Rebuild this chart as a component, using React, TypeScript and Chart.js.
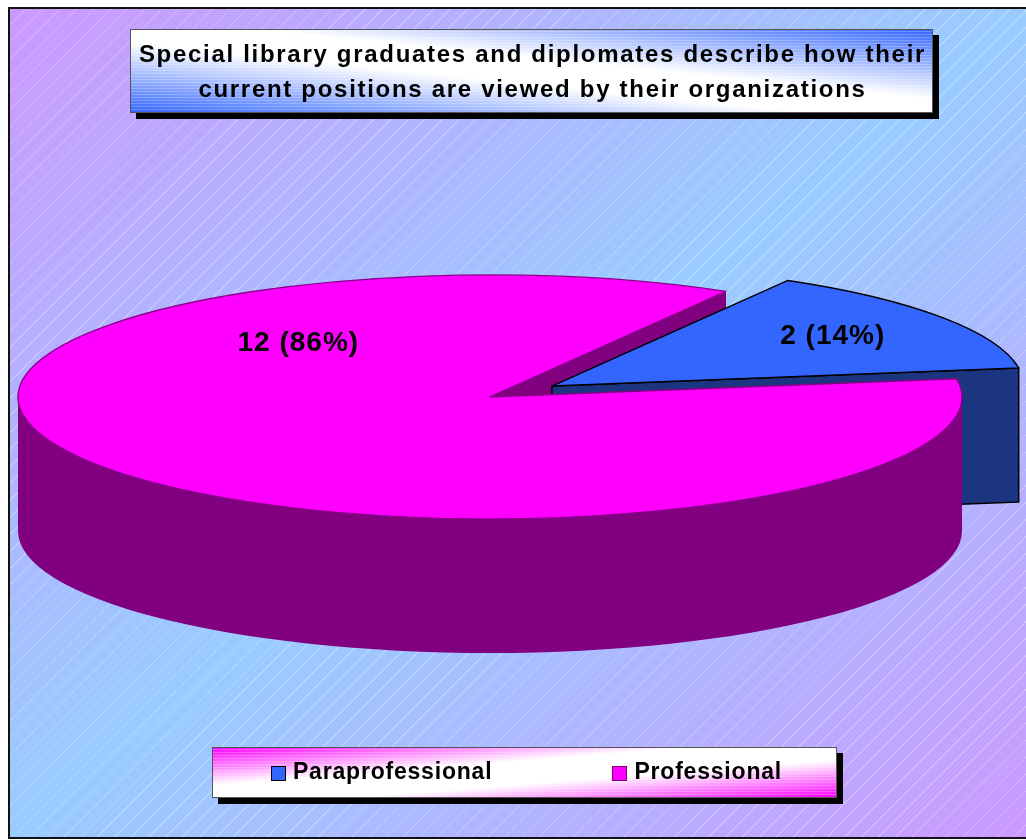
import React, { useEffect, useRef } from 'react';
import { Chart, registerables } from 'chart.js';

Chart.register(...registerables);

// ---- data ----
const categories = ['Paraprofessional', 'Professional'];
const counts = [2, 12];
const titleLines = [
  'Special library graduates and diplomates describe how their',
  'current positions are viewed by their organizations',
];
const topColors = ['#3366FF', '#FF00FF'];
const sideColors = ['#1C3580', '#800080'];
const edgeColors = ['#000000', '#8B008B'];

const FONT = '"Liberation Sans", Arial, Helvetica, sans-serif';

const pie3d = {
  id: 'pie3d',
  beforeDatasetDraw(chart: any, args: any, opts: any) {
    const ctx: CanvasRenderingContext2D = chart.ctx;
    const meta = chart.getDatasetMeta(args.index);
    const K = opts.tilt;
    const D = opts.depth;
    const values = chart.data.datasets[args.index].data as number[];
    const total = values.reduce((a: number, b: number) => a + b, 0);

    const geo = meta.data.map((el: any, i: number) => {
      const p = el.getProps(['x', 'y', 'startAngle', 'endAngle', 'outerRadius'], true);
      const mid = (p.startAngle + p.endAngle) / 2;
      const ex = (opts.explode && opts.explode[i]) || 0;
      return {
        el,
        i,
        s: p.startAngle,
        e: p.endAngle,
        R: p.outerRadius,
        mid,
        x: p.x,
        y: p.y,
        ox: opts.cx + Math.cos(mid) * ex,
        oy: opts.cy + Math.sin(mid) * ex * K,
      };
    });

    // cut faces
    const faces: any[] = [];
    geo.forEach((g: any) => {
      if (Math.cos(g.s) < 0) faces.push({ g, a: g.s });
      if (Math.cos(g.e) > 0) faces.push({ g, a: g.e });
    });
    faces.sort(
      (A, B) =>
        A.g.oy + (A.g.R * K * Math.sin(A.a)) / 2 - (B.g.oy + (B.g.R * K * Math.sin(B.a)) / 2)
    );
    faces.forEach(({ g, a }) => {
      const px = g.ox + g.R * Math.cos(a);
      const py = g.oy + g.R * K * Math.sin(a);
      ctx.save();
      ctx.beginPath();
      ctx.moveTo(g.ox, g.oy);
      ctx.lineTo(px, py);
      ctx.lineTo(px, py + D);
      ctx.lineTo(g.ox, g.oy + D);
      ctx.closePath();
      ctx.fillStyle = sideColors[g.i];
      ctx.fill();
      if (g.i === 0) {
        ctx.strokeStyle = edgeColors[g.i];
        ctx.lineWidth = 1.5;
        ctx.lineJoin = 'round';
        ctx.stroke();
      }
      ctx.restore();
    });

    // outer walls (front half only)
    const fronts = [
      [-2 * Math.PI, -Math.PI],
      [0, Math.PI],
      [2 * Math.PI, 3 * Math.PI],
    ];
    geo.forEach((g: any) => {
      fronts.forEach(([f1, f2]) => {
        const a1 = Math.max(g.s, f1);
        const a2 = Math.min(g.e, f2);
        if (a2 > a1) {
          ctx.save();
          ctx.beginPath();
          ctx.ellipse(g.ox, g.oy, g.R, g.R * K, 0, a1, a2, false);
          ctx.ellipse(g.ox, g.oy + D, g.R, g.R * K, 0, a2, a1, true);
          ctx.closePath();
          ctx.fillStyle = sideColors[g.i];
          ctx.fill();
          ctx.restore();
        }
      });
    });

    // top faces, drawn by the library's arc elements
    geo.forEach((g: any) => {
      ctx.save();
      ctx.translate(g.ox, g.oy);
      ctx.scale(1, K);
      ctx.translate(-g.x, -g.y);
      g.el.draw(ctx);
      ctx.restore();
    });

    // outlines
    geo.forEach((g: any) => {
      ctx.save();
      ctx.beginPath();
      ctx.moveTo(g.ox, g.oy);
      ctx.ellipse(g.ox, g.oy, g.R, g.R * K, 0, g.s, g.e, false);
      ctx.closePath();
      ctx.strokeStyle = edgeColors[g.i];
      ctx.lineWidth = g.i === 0 ? 1.5 : 1.4;
      ctx.lineJoin = 'round';
      ctx.stroke();
      ctx.restore();
    });

    // labels
    geo.forEach((g: any) => {
      const lp = opts.labels[g.i];
      const ang = lp.angle == null ? g.mid : (lp.angle * Math.PI) / 180;
      const lx = g.ox + Math.cos(ang) * g.R * lp.r;
      const ly = g.oy + Math.sin(ang) * g.R * K * lp.r;
      const pct = Math.round((values[g.i] / total) * 100);
      ctx.save();
      ctx.font = `bold 28px ${FONT}`;
      (ctx as any).letterSpacing = '1px';
      ctx.fillStyle = '#000';
      ctx.textAlign = 'center';
      ctx.textBaseline = 'middle';
      ctx.fillText(`${values[g.i]} (${pct}%)`, lx, ly);
      ctx.restore();
    });

    return false;
  },
};

export default function App() {
  const ref = useRef<HTMLCanvasElement>(null);

  useEffect(() => {
    if (!ref.current) return;
    const chart = new Chart(ref.current, {
      type: 'pie',
      data: {
        labels: categories,
        datasets: [
          {
            data: counts,
            backgroundColor: topColors,
            borderWidth: 0,
            radius: 472,
            rotation: 30,
          } as any,
        ],
      },
      options: {
        animation: false,
        responsive: false,
        events: [],
        layout: { padding: 0 },
        plugins: {
          legend: { display: false },
          title: { display: false },
          tooltip: { enabled: false },
          pie3d: {
            cx: 490,
            cy: 397,
            tilt: 122 / 472,
            depth: 134,
            explode: [75, 0],
            labels: [
              { r: 0.72, angle: null },
              { r: 0.6, angle: -132.6 },
            ],
          },
        } as any,
      },
      plugins: [pie3d as any],
    });
    return () => chart.destroy();
  }, []);

  const boxStripes =
    'repeating-linear-gradient(0deg, rgba(255,255,255,0) 0px, rgba(255,255,255,0) 2px, rgba(255,255,255,0.22) 2px, rgba(255,255,255,0.22) 3px)';

  return (
    <div
      style={{
        position: 'absolute',
        left: 0,
        top: 0,
        width: 1026,
        height: 840,
        overflow: 'hidden',
        background: '#ffffff',
      }}
    >
      <div
        style={{
          position: 'absolute',
          left: 8,
          top: 7,
          width: 1030,
          height: 832,
          boxSizing: 'border-box',
          border: '2px solid #111',
          background:
            'repeating-linear-gradient(135deg, rgba(255,255,255,0) 0px, rgba(255,255,255,0) 11px, rgba(255,255,255,0.28) 11px, rgba(255,255,255,0.28) 12px), linear-gradient(to bottom right, #CC99FF 0%, #99CCFF 50%, #CC99FF 100%)',
        }}
      />
      <canvas
        ref={ref}
        width={1026}
        height={840}
        style={{ position: 'absolute', left: 0, top: 0, width: 1026, height: 840 }}
      />
      <div
        style={{
          position: 'absolute',
          left: 130,
          top: 29,
          width: 803,
          height: 84,
          boxSizing: 'border-box',
          border: '1px solid #555',
          boxShadow: '6px 6px 0 #000',
          background: `${boxStripes}, linear-gradient(to top right, #3366FF 0%, #FFFFFF 42%, #FFFFFF 58%, #3366FF 100%)`,
          font: `bold 24px ${FONT}`,
          letterSpacing: '1.7px',
          lineHeight: '35px',
          textAlign: 'center',
          paddingTop: 6,
          paddingLeft: 2,
          color: '#000',
          whiteSpace: 'nowrap',
        }}
      >
        {titleLines.map((l) => (
          <div key={l}>{l}</div>
        ))}
      </div>
      <div
        style={{
          position: 'absolute',
          left: 212,
          top: 747,
          width: 625,
          height: 51,
          boxSizing: 'border-box',
          border: '1px solid #555',
          boxShadow: '6px 6px 0 #000',
          background: `${boxStripes}, linear-gradient(to bottom right, #FF00FF 0%, #FFFFFF 38%, #FFFFFF 62%, #FF00FF 100%)`,
          display: 'flex',
          justifyContent: 'center',
          alignItems: 'flex-start',
          gap: 120,
          paddingTop: 11.5,
          paddingLeft: 4,
          font: `bold 23px ${FONT}`,
          letterSpacing: '0.8px',
          lineHeight: '23px',
          color: '#000',
          whiteSpace: 'nowrap',
        }}
      >
        {categories.map((c, i) => (
          <div key={c} style={{ display: 'flex', alignItems: 'flex-start' }}>
            <div
              style={{
                width: 15,
                height: 15,
                boxSizing: 'border-box',
                border: `1.5px solid ${i === 0 ? '#000' : '#800080'}`,
                background: topColors[i],
                marginTop: 6.5,
                marginRight: 7,
              }}
            />
            <span>{c}</span>
          </div>
        ))}
      </div>
    </div>
  );
}
